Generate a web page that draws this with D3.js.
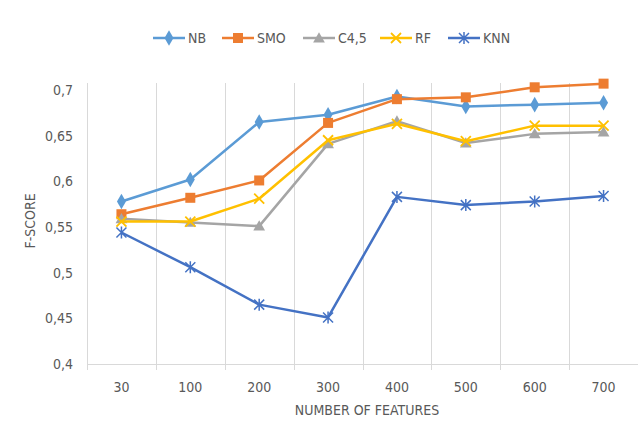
<!DOCTYPE html>
<html lang="en">
<head>
    <meta charset="UTF-8">
    <title>F-score vs number of features</title>
    <script src="https://cdnjs.cloudflare.com/ajax/libs/d3/7.8.5/d3.min.js"></script>
    <style>
        body { margin: 0; background: #fff; }
        text { font-family: "Liberation Sans Narrow", "DejaVu Sans Condensed", sans-serif; fill: #595959; }
    </style>
</head>
<body>
    <script>
        // Categories and series
        var features = ["30", "100", "200", "300", "400", "500", "600", "700"];
        var nb  = [0.578, 0.602, 0.665, 0.673, 0.693, 0.682, 0.684, 0.686];
        var smo = [0.564, 0.582, 0.601, 0.664, 0.690, 0.692, 0.703, 0.707];
        var c45 = [0.559, 0.555, 0.551, 0.641, 0.666, 0.642, 0.652, 0.654];
        var rf  = [0.556, 0.556, 0.581, 0.645, 0.663, 0.644, 0.661, 0.661];
        var knn = [0.544, 0.506, 0.465, 0.451, 0.583, 0.574, 0.578, 0.584];
        var yTicks = [0.4, 0.45, 0.5, 0.55, 0.6, 0.65, 0.7];

        var series = [
            {name: "NB",   values: nb,  color: "#5B9BD5", marker: "diamond"},
            {name: "SMO",  values: smo, color: "#ED7D31", marker: "square"},
            {name: "C4,5", values: c45, color: "#A5A5A5", marker: "triangle"},
            {name: "RF",   values: rf,  color: "#FFC000", marker: "x"},
            {name: "KNN",  values: knn, color: "#4472C4", marker: "star"}
        ];

        var width = 638, height = 427;
        var plotLeft = 87, plotRight = 638, plotTop = 83, plotBottom = 364;

        var svg = d3.select("body")
            .append("svg")
            .attr("width", width)
            .attr("height", height);

        var x = d3.scaleBand().domain(features).range([plotLeft, plotRight]);
        var y = d3.scaleLinear().domain([0.4, 0.7077]).range([plotBottom, plotTop]);

        // vertical gridlines at category boundaries
        var bounds = features.map(function(f){ return x(f); }).concat([plotRight - 0.5]);
        svg.selectAll(".vgrid")
            .data(bounds)
            .enter()
            .append("line")
            .attr("x1", function(d){ return Math.round(d) + 0.5; })
            .attr("x2", function(d){ return Math.round(d) + 0.5; })
            .attr("y1", plotTop)
            .attr("y2", plotBottom + 6)
            .attr("stroke", "#d9d9d9")
            .attr("stroke-width", 1);

        // x axis line
        svg.append("line")
            .attr("x1", plotLeft).attr("x2", plotRight)
            .attr("y1", plotBottom + 0.5).attr("y2", plotBottom + 0.5)
            .attr("stroke", "#d9d9d9");

        // x labels
        svg.selectAll(".xlab")
            .data(features)
            .enter()
            .append("text")
            .attr("x", function(d){ return x(d) + x.bandwidth() / 2; })
            .attr("y", 392)
            .attr("text-anchor", "middle")
            .style("font-size", "14px")
            .text(function(d){ return d; });

        // y labels
        var fmt = function(v){ return String(+v.toFixed(2)).replace(".", ","); };
        svg.selectAll(".ylab")
            .data(yTicks)
            .enter()
            .append("text")
            .attr("x", 73)
            .attr("y", function(d){ return y(d) + 5; })
            .attr("text-anchor", "end")
            .style("font-size", "14px")
            .text(fmt);

        // axis titles
        svg.append("text")
            .attr("transform", "translate(35,221) rotate(-90)")
            .attr("text-anchor", "middle")
            .style("font-size", "14px")
            .text("F-SCORE");
        svg.append("text")
            .attr("x", 367)
            .attr("y", 415)
            .attr("text-anchor", "middle")
            .style("font-size", "14px")
            .text("NUMBER OF FEATURES");

        // marker drawing
        function drawMarker(g, type, color, cx, cy) {
            if (type === "diamond") {
                g.append("path").attr("d", d3.symbol(d3.symbolDiamond, 70)())
                    .attr("transform", "translate(" + cx + "," + cy + ")").attr("fill", color);
            } else if (type === "square") {
                g.append("rect").attr("x", cx - 5).attr("y", cy - 5).attr("width", 10).attr("height", 10)
                    .attr("fill", color);
            } else if (type === "triangle") {
                g.append("path").attr("d", d3.symbol(d3.symbolTriangle, 60)())
                    .attr("transform", "translate(" + cx + "," + (cy + 1) + ")").attr("fill", color);
            } else if (type === "x") {
                g.append("path").attr("d", "M-5,-5L5,5M-5,5L5,-5")
                    .attr("transform", "translate(" + cx + "," + cy + ")")
                    .attr("stroke", color).attr("stroke-width", 1.8).attr("fill", "none");
            } else {
                g.append("path").attr("d", "M-5,-5L5,5M-5,5L5,-5M0,-6L0,6")
                    .attr("transform", "translate(" + cx + "," + cy + ")")
                    .attr("stroke", color).attr("stroke-width", 1.5).attr("fill", "none");
            }
        }

        var line = d3.line()
            .x(function(d, i){ return x(features[i]) + x.bandwidth() / 2; })
            .y(function(d){ return y(d); });

        series.forEach(function(s){
            var g = svg.append("g");
            g.append("path")
                .attr("d", line(s.values))
                .attr("fill", "none")
                .attr("stroke", s.color)
                .attr("stroke-width", 2.5)
                .attr("stroke-linejoin", "round");
            s.values.forEach(function(v, i){
                drawMarker(g, s.marker, s.color, x(features[i]) + x.bandwidth() / 2, y(v));
            });
        });

        // legend
        var legendX = [153, 222, 303, 380, 448];
        series.forEach(function(s, i){
            var g = svg.append("g");
            var lx = legendX[i];
            g.append("line")
                .attr("x1", lx).attr("x2", lx + 32)
                .attr("y1", 38).attr("y2", 38)
                .attr("stroke", s.color).attr("stroke-width", 2.5);
            drawMarker(g, s.marker, s.color, lx + 16, 38);
            g.append("text")
                .attr("x", lx + 35)
                .attr("y", 43)
                .style("font-size", "14px")
                .text(s.name);
        });
    </script>
</body>
</html>
